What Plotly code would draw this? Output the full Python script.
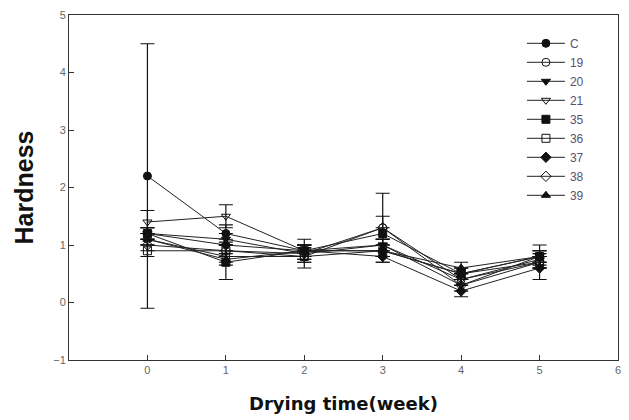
import plotly.graph_objects as go

weeks = [0, 1, 2, 3, 4, 5]
names = ["C", "19", "20", "21", "35", "36", "37", "38", "39"]
symbols = ["circle", "circle-open", "triangle-down", "triangle-down-open", "square",
           "square-open", "diamond", "diamond-open", "triangle-up"]

hard_C = [2.2, 1.2, 0.9, 0.9, 0.5, 0.8]
hard_19 = [1.1, 0.8, 0.8, 1.3, 0.4, 0.7]
hard_20 = [1.2, 1.1, 0.85, 1.0, 0.3, 0.8]
hard_21 = [1.4, 1.5, 0.9, 1.0, 0.4, 0.75]
hard_35 = [1.2, 0.7, 0.9, 1.2, 0.5, 0.8]
hard_36 = [0.9, 0.9, 0.8, 0.9, 0.5, 0.7]
hard_37 = [1.2, 1.0, 0.9, 0.8, 0.2, 0.6]
hard_38 = [1.0, 0.9, 0.85, 1.3, 0.3, 0.7]
hard_39 = [1.1, 0.75, 0.9, 0.9, 0.6, 0.8]

err_C = [2.3, 0.15, 0.1, 0.1, 0.1, 0.1]
err_19 = [0.1, 0.1, 0.2, 0.6, 0.1, 0.1]
err_20 = [0.1, 0.1, 0.1, 0.1, 0.1, 0.1]
err_21 = [0.2, 0.2, 0.1, 0.1, 0.1, 0.1]
err_35 = [0.1, 0.3, 0.1, 0.1, 0.1, 0.1]
err_36 = [0.1, 0.1, 0.1, 0.1, 0.1, 0.1]
err_37 = [0.1, 0.1, 0.1, 0.1, 0.1, 0.2]
err_38 = [0.1, 0.1, 0.1, 0.2, 0.1, 0.1]
err_39 = [0.1, 0.1, 0.2, 0.1, 0.1, 0.2]

values = [hard_C, hard_19, hard_20, hard_21, hard_35, hard_36, hard_37, hard_38, hard_39]
errors = [err_C, err_19, err_20, err_21, err_35, err_36, err_37, err_38, err_39]

fig = go.Figure()
for name, sym, v, e in zip(names, symbols, values, errors):
    fig.add_trace(go.Scatter(
        x=weeks, y=v, name=name, mode="lines+markers",
        line=dict(color="#222222", width=1),
        marker=dict(symbol=sym, size=8, color="#111111",
                    line=dict(color="#111111", width=1)),
        error_y=dict(type="data", array=e, visible=True, color="#111111",
                     thickness=1.2, width=7),
    ))

fig.update_layout(
    width=629, height=420,
    margin=dict(l=69, r=11, t=15, b=60),
    paper_bgcolor="white", plot_bgcolor="white",
    font=dict(family="Liberation Sans, Arial, sans-serif", color="#444444"),
    showlegend=True,
    legend=dict(x=0.825, y=0.96, xanchor="left", yanchor="top",
                font=dict(size=12, color="#5a5070"),
                bgcolor="rgba(0,0,0,0)", tracegroupgap=0, itemwidth=38),
    xaxis=dict(range=[-1, 6], tickvals=[0, 1, 2, 3, 4, 5, 6], automargin=False,
               ticks="inside", ticklen=5, tickcolor="#333", showgrid=False,
               zeroline=False, showline=True, linecolor="#333", linewidth=1,
               mirror=True, tickfont=dict(size=11, color="#666"),
               title=dict(text="<b>Drying time(week)</b>",
                          font=dict(size=18, color="#111", family="DejaVu Sans, sans-serif"),
                          standoff=22)),
    yaxis=dict(range=[-1, 5], tickvals=[-1, 0, 1, 2, 3, 4, 5], automargin=False,
               ticks="inside", ticklen=5, tickcolor="#333", showgrid=False,
               zeroline=False, showline=True, linecolor="#333", linewidth=1,
               mirror=True, tickfont=dict(size=11, color="#666"),
               title=dict(text="<b>Hardness</b>",
                          font=dict(size=25, color="#111", family="Liberation Sans, Arial, sans-serif"),
                          standoff=12)),
)

fig.write_html("out.html")
